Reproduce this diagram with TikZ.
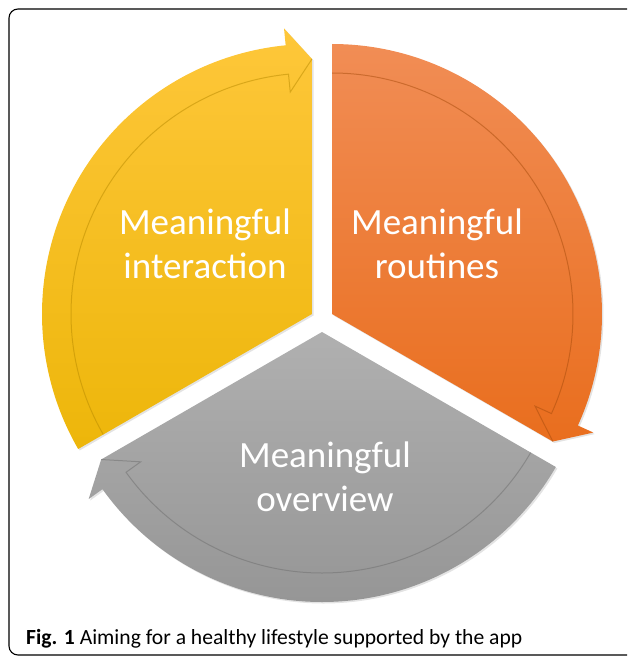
\documentclass[tikz,border=0pt]{standalone}
\usepackage{fontspec}
\setmainfont{Carlito}
\usetikzlibrary{shadows}
\definecolor{yelT}{HTML}{FEC73A}
\definecolor{yelB}{HTML}{EDB60A}
\definecolor{yelD}{HTML}{B88A00}
\definecolor{oraT}{HTML}{F18D55}
\definecolor{oraB}{HTML}{E96E1E}
\definecolor{oraD}{HTML}{A84C0C}
\definecolor{graT}{HTML}{B0B0B0}
\definecolor{graB}{HTML}{969696}
\definecolor{graD}{HTML}{6E6E6E}
\tikzstyle{segment}=[drop shadow={opacity=0.22, shadow xshift=1.5pt, shadow yshift=-1.5pt}]
\tikzstyle{bandedge}=[line width=1pt, opacity=0.5]
\tikzstyle{segtext}=[text=white, font=\fontsize{37}{44}\selectfont, align=center]

\begin{document}
\begin{tikzpicture}[x=1pt, y=-1pt]
\useasboundingbox (0,0) rectangle (627,658);
% Frame
    \draw[line width=1.1pt, rounded corners=9] (627,9) -- (9,9) -- (9,655) -- (627,655);
% Yellow segment
\begin{scope}[shift={(312,314)}]
    \path[segment, top color=yelT, bottom color=yelB] (0,0) -- (150:270) arc[start angle=150, end angle=264.4, radius=270] -- (264.4:287) -- (270:255) -- cycle;
    \draw[bandedge, yelD] (150:241) arc[start angle=150, end angle=264.4, radius=241] -- (264.4:223) -- (270:255);
\end{scope}
% Orange segment
\begin{scope}[shift={(332,314)}]
    \path[segment, top color=oraT, bottom color=oraB] (0,0) -- (270:270) arc[start angle=270, end angle=384.4, radius=270] -- (384.4:287) -- (390:255) -- cycle;
    \draw[bandedge, oraD] (270:241) arc[start angle=270, end angle=384.4, radius=241] -- (384.4:223) -- (390:255);
\end{scope}
% Gray segment
\begin{scope}[shift={(322,332)}]
    \path[segment, top color=graT, bottom color=graB] (0,0) -- (30:270) arc[start angle=30, end angle=144.4, radius=270] -- (144.4:287) -- (150:255) -- cycle;
    \draw[bandedge, graD] (30:241) arc[start angle=30, end angle=144.4, radius=241] -- (144.4:223) -- (150:255);
\end{scope}
% Texts
    \node[segtext] (interaction) at (205,244) {Meaningful\\interaction};
    \node[segtext] (routines) at (437,244) {Meaningful\\routines};
    \node[segtext] (overview) at (325,477) {Meaningful\\overview};
    \node[anchor=base west, inner sep=0, font=\fontsize{21.6}{24}\selectfont] (caption) at (26,644) {\textbf{Fig. 1} Aiming for a healthy lifestyle supported by the app};
\end{tikzpicture}
\end{document}
